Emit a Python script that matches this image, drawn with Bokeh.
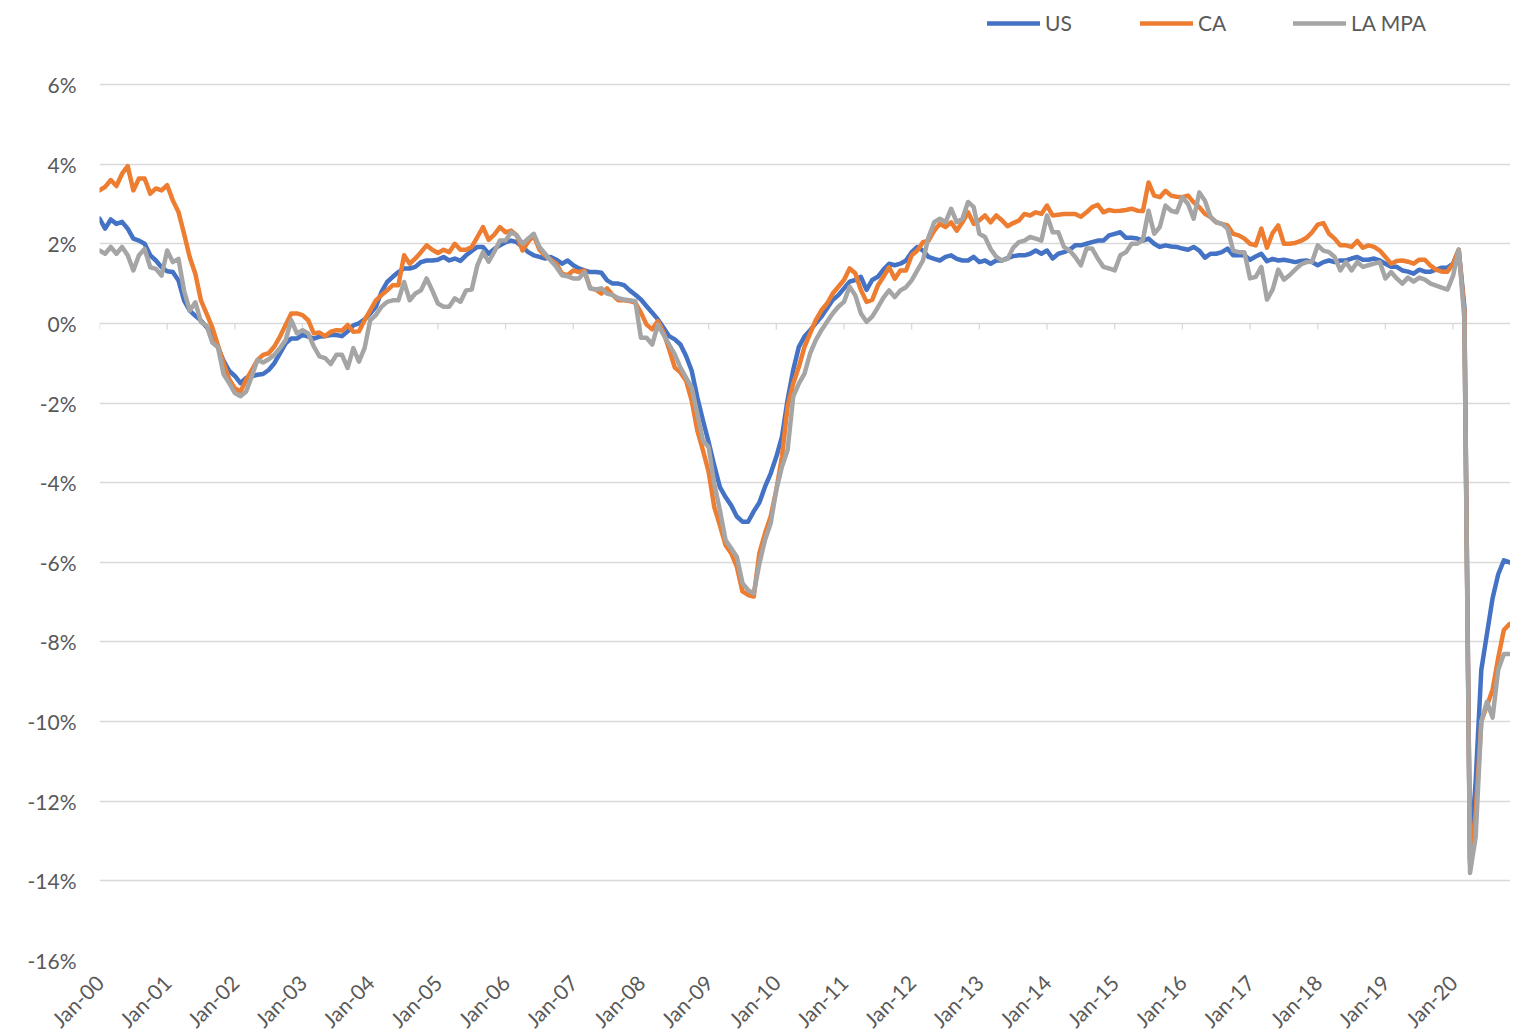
import math
import numpy as np
import pandas as pd
from bokeh.plotting import figure
from bokeh.models import Range1d, FixedTicker, PrintfTickFormatter, Legend, LegendItem
from bokeh.embed import file_html
from bokeh.resources import INLINE

# ---- data (year-over-year employment change, %) Jan-2000 .. Nov-2020 ----
months = pd.date_range("2000-01-01", periods=251, freq="MS")

us = [
    2.63, 2.38, 2.61, 2.50, 2.55, 2.38, 2.13, 2.08, 2.00, 1.71, 1.58, 1.41,
    1.31, 1.29, 1.08, 0.57, 0.32, 0.19, 0.07, -0.10, -0.27, -0.60, -0.94, -1.19,
    -1.32, -1.50, -1.37, -1.33, -1.29, -1.27, -1.17, -1.00, -0.75, -0.50, -0.38, -0.38,
    -0.29, -0.33, -0.38, -0.33, -0.32, -0.29, -0.29, -0.32, -0.20, -0.05, 0.00, 0.10,
    0.25, 0.42, 0.79, 1.04, 1.17, 1.29, 1.38, 1.38, 1.42, 1.54, 1.58, 1.58,
    1.60, 1.67, 1.58, 1.63, 1.57, 1.71, 1.82, 1.92, 1.92, 1.75, 1.87, 1.96,
    2.04, 2.08, 2.04, 1.92, 1.79, 1.71, 1.67, 1.63, 1.67, 1.60, 1.50, 1.58,
    1.46, 1.38, 1.33, 1.29, 1.29, 1.27, 1.08, 1.00, 1.00, 0.96, 0.83, 0.72,
    0.60, 0.43, 0.27, 0.10, -0.11, -0.32, -0.40, -0.53, -0.82, -1.19, -1.86, -2.44,
    -2.98, -3.57, -4.11, -4.36, -4.57, -4.85, -4.98, -4.98, -4.72, -4.50, -4.10, -3.77,
    -3.35, -2.85, -1.92, -1.17, -0.59, -0.33, -0.17, 0.00, 0.17, 0.38, 0.59, 0.71,
    0.88, 1.05, 1.09, 1.17, 0.84, 1.09, 1.17, 1.35, 1.50, 1.46, 1.50, 1.58,
    1.79, 1.92, 1.83, 1.67, 1.62, 1.58, 1.67, 1.71, 1.62, 1.58, 1.58, 1.67,
    1.54, 1.58, 1.50, 1.58, 1.58, 1.64, 1.69, 1.71, 1.71, 1.75, 1.83, 1.75,
    1.83, 1.63, 1.75, 1.79, 1.85, 1.96, 1.96, 2.00, 2.04, 2.08, 2.08, 2.21,
    2.25, 2.29, 2.15, 2.15, 2.13, 2.08, 2.13, 2.00, 1.92, 1.96, 1.93, 1.92,
    1.88, 1.85, 1.92, 1.83, 1.65, 1.75, 1.75, 1.79, 1.88, 1.71, 1.71, 1.71,
    1.60, 1.68, 1.75, 1.56, 1.62, 1.58, 1.60, 1.57, 1.54, 1.57, 1.58, 1.54,
    1.46, 1.54, 1.58, 1.54, 1.58, 1.58, 1.63, 1.67, 1.60, 1.60, 1.63, 1.58,
    1.50, 1.42, 1.42, 1.33, 1.30, 1.25, 1.35, 1.30, 1.30, 1.35, 1.40, 1.40,
    1.50, 1.85, 0.40, -13.50, -11.50, -8.70, -7.80, -6.90, -6.30, -5.95, -6.00,
]

ca = [
    3.34, 3.43, 3.60, 3.45, 3.76, 3.95, 3.34, 3.64, 3.64, 3.26, 3.39, 3.34,
    3.47, 3.09, 2.80, 2.25, 1.66, 1.24, 0.57, 0.24, -0.10, -0.55, -1.00, -1.40,
    -1.63, -1.71, -1.42, -1.17, -0.92, -0.79, -0.75, -0.58, -0.33, -0.04, 0.25, 0.25,
    0.21, 0.08, -0.25, -0.23, -0.32, -0.21, -0.17, -0.18, -0.04, -0.21, -0.20, 0.08,
    0.33, 0.58, 0.71, 0.83, 0.96, 0.96, 1.71, 1.50, 1.63, 1.79, 1.96, 1.85,
    1.77, 1.85, 1.79, 2.00, 1.85, 1.85, 1.92, 2.17, 2.42, 2.10, 2.23, 2.42,
    2.29, 2.33, 2.21, 1.83, 2.05, 2.20, 1.85, 1.70, 1.60, 1.50, 1.25, 1.21,
    1.33, 1.29, 1.33, 0.88, 0.85, 0.75, 0.88, 0.71, 0.58, 0.58, 0.56, 0.52,
    0.27, -0.03, -0.15, 0.06, -0.23, -0.65, -1.11, -1.23, -1.44, -1.94, -2.69, -3.19,
    -3.73, -4.61, -5.07, -5.57, -5.77, -6.11, -6.73, -6.82, -6.86, -5.77, -5.27, -4.85,
    -4.18, -3.35, -2.09, -1.51, -1.09, -0.59, -0.25, 0.08, 0.33, 0.50, 0.75, 0.92,
    1.09, 1.38, 1.26, 0.84, 0.54, 0.59, 0.95, 1.17, 1.41, 1.12, 1.33, 1.33,
    1.71, 1.83, 2.04, 2.08, 2.33, 2.50, 2.42, 2.54, 2.33, 2.54, 2.79, 2.50,
    2.59, 2.71, 2.54, 2.71, 2.59, 2.44, 2.52, 2.58, 2.75, 2.71, 2.79, 2.75,
    2.96, 2.71, 2.73, 2.75, 2.75, 2.75, 2.68, 2.79, 2.92, 2.98, 2.79, 2.85,
    2.82, 2.83, 2.85, 2.88, 2.83, 2.82, 3.54, 3.21, 3.17, 3.33, 3.21, 3.18,
    3.17, 3.21, 3.04, 2.92, 2.75, 2.67, 2.54, 2.50, 2.46, 2.25, 2.21, 2.13,
    2.00, 1.96, 2.38, 1.90, 2.27, 2.46, 2.00, 2.00, 2.02, 2.07, 2.15, 2.29,
    2.48, 2.52, 2.25, 2.13, 1.96, 1.96, 1.92, 2.07, 1.90, 1.96, 1.92, 1.83,
    1.67, 1.50, 1.57, 1.58, 1.55, 1.50, 1.60, 1.60, 1.45, 1.35, 1.30, 1.30,
    1.50, 1.85, 0.30, -13.60, -12.30, -10.00, -9.60, -9.20, -8.40, -7.70, -7.55,
]

la_mpa = [
    1.83, 1.75, 1.92, 1.75, 1.92, 1.71, 1.33, 1.71, 1.87, 1.41, 1.37, 1.20,
    1.83, 1.54, 1.62, 0.82, 0.32, 0.53, 0.03, -0.06, -0.48, -0.60, -1.28, -1.50,
    -1.75, -1.83, -1.71, -1.33, -0.92, -0.98, -0.90, -0.79, -0.62, -0.42, 0.08, -0.25,
    -0.17, -0.25, -0.58, -0.83, -0.87, -1.02, -0.79, -0.79, -1.12, -0.62, -0.96, -0.62,
    0.08, 0.21, 0.42, 0.54, 0.58, 0.58, 1.04, 0.58, 0.75, 0.83, 1.13, 0.83,
    0.50, 0.42, 0.42, 0.63, 0.54, 0.83, 0.85, 1.46, 1.79, 1.55, 1.80, 2.08,
    2.08, 2.29, 2.21, 2.00, 2.13, 2.25, 1.92, 1.75, 1.58, 1.42, 1.21, 1.18,
    1.13, 1.13, 1.29, 0.88, 0.85, 0.88, 0.75, 0.71, 0.63, 0.60, 0.58, 0.56,
    -0.36, -0.36, -0.53, -0.03, -0.28, -0.53, -0.78, -1.11, -1.36, -1.61, -2.27, -2.94,
    -3.11, -4.03, -4.69, -5.44, -5.65, -5.86, -6.52, -6.70, -6.78, -6.03, -5.44, -5.02,
    -4.18, -3.60, -3.18, -1.84, -1.51, -1.26, -0.75, -0.42, -0.17, 0.04, 0.25, 0.42,
    0.54, 0.92, 0.71, 0.25, 0.04, 0.17, 0.40, 0.65, 0.83, 0.66, 0.83, 0.91,
    1.08, 1.33, 1.58, 2.17, 2.54, 2.63, 2.54, 2.88, 2.54, 2.63, 3.05, 2.92,
    2.25, 2.17, 1.87, 1.67, 1.58, 1.62, 1.90, 2.04, 2.08, 2.17, 2.13, 2.08,
    2.71, 2.29, 2.29, 1.92, 1.83, 1.67, 1.46, 1.88, 1.88, 1.63, 1.42, 1.38,
    1.33, 1.71, 1.79, 2.00, 2.00, 2.10, 2.83, 2.25, 2.42, 2.96, 2.83, 2.79,
    3.17, 3.00, 2.63, 3.29, 3.08, 2.67, 2.54, 2.50, 2.38, 1.83, 1.79, 1.79,
    1.13, 1.17, 1.42, 0.60, 0.85, 1.35, 1.10, 1.21, 1.35, 1.48, 1.54, 1.55,
    1.96, 1.83, 1.79, 1.67, 1.33, 1.54, 1.33, 1.54, 1.42, 1.46, 1.50, 1.54,
    1.13, 1.29, 1.13, 1.00, 1.15, 1.05, 1.15, 1.10, 1.00, 0.95, 0.90, 0.85,
    1.20, 1.85, 0.10, -13.80, -12.90, -10.00, -9.50, -9.90, -8.70, -8.30, -8.30,
]

series_names = ["US", "CA", "LA MPA"]
series_colors = ["#4472C4", "#ED7D31", "#A5A5A5"]
y_ticks = list(range(-16, 7, 2))

x = np.arange(len(months))
jan_idx = [int(i) for i in x if months[i].month == 1]
jan_labels = {i: months[i].strftime("%b-%y") for i in jan_idx}

# ---- geometry ----
FRAME_W, FRAME_H = 1411, 960
px_per_pct = 876 / 22.0
y_top = -16 + FRAME_H / px_per_pct
x_end = FRAME_W / 5.64

FONT = "Lato"
TXT = "#595959"
GRID = "#D9D9D9"

p = figure(frame_width=FRAME_W, frame_height=FRAME_H,
           x_range=Range1d(0, x_end), y_range=Range1d(-16, y_top),
           output_backend="svg", toolbar_location=None,
           min_border_left=99, min_border_right=0, min_border_top=0, min_border_bottom=67)
p.outline_line_color = None
p.background_fill_color = "white"
p.border_fill_color = "white"

# grid
p.xgrid.grid_line_color = None
p.ygrid.grid_line_color = GRID
p.ygrid.grid_line_width = 1.3

# y axis
p.yaxis.ticker = FixedTicker(ticks=y_ticks)
p.yaxis.formatter = PrintfTickFormatter(format="%d%%")
p.yaxis.axis_line_color = None
p.yaxis.major_tick_line_color = None
p.yaxis.minor_tick_line_color = None
p.yaxis.major_label_standoff = 17
p.yaxis.major_label_text_font = FONT
p.yaxis.major_label_text_font_size = "21px"
p.yaxis.major_label_text_color = TXT

# x axis (labels at the bottom)
p.xaxis.ticker = FixedTicker(ticks=jan_idx)
p.xaxis.major_label_overrides = jan_labels
p.xaxis.major_label_orientation = math.pi / 4
p.xaxis.axis_line_color = None
p.xaxis.major_tick_line_color = None
p.xaxis.minor_tick_line_color = None
p.xaxis.major_label_standoff = 12
p.xaxis.major_label_text_font = FONT
p.xaxis.major_label_text_font_size = "21px"
p.xaxis.major_label_text_color = TXT

# tick marks on the 0% category axis line
p.segment(x0=jan_idx, y0=[0] * len(jan_idx), x1=jan_idx, y1=[-0.15] * len(jan_idx),
          line_color=GRID, line_width=1.3)

renderers = []
for vals, col in zip([us, ca, la_mpa], series_colors):
    r = p.line(x, vals, line_color=col, line_width=4.5, line_join="round", line_cap="round")
    renderers.append(r)

legend = Legend(
    items=[LegendItem(label=n, renderers=[r]) for n, r in zip(series_names, renderers)],
    orientation="horizontal", location=(888, 925),
    glyph_width=53, glyph_height=20, label_standoff=5, spacing=5, label_width=90,
    padding=0, margin=0, border_line_color=None, background_fill_alpha=0,
    label_text_font=FONT, label_text_font_size="21px", label_text_color=TXT,
)
p.add_layout(legend)

open("out.html", "w").write(file_html(p, INLINE))
